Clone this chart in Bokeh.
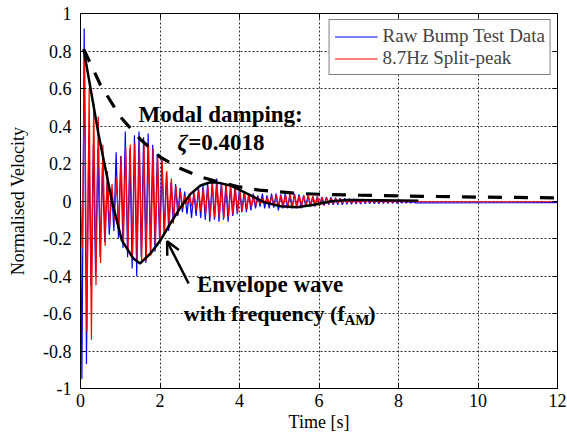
import numpy as np
from bokeh.plotting import figure
from bokeh.models import (Range1d, FixedTicker, LinearAxis, Legend, LegendItem,
                          Label, Arrow, OpenHead)
from bokeh.embed import file_html
from bokeh.resources import INLINE

# ---------------- data ----------------
X_TICKS = [0, 2, 4, 6, 8, 10, 12]
X_TICK_LABELS = ["0", "2", "4", "6", "8", "10", "12"]
Y_TICKS = [-1, -0.8, -0.6, -0.4, -0.2, 0, 0.2, 0.4, 0.6, 0.8, 1]
Y_TICK_LABELS = ["-1", "-0.8", "-0.6", "-0.4", "-0.2", "0", "0.2", "0.4", "0.6", "0.8", "1"]

# sampling of the extremes of the 8.7 Hz oscillation (half a period apart)
CARRIER_HZ = 8.7
HALF_PERIOD = 1.0 / (2.0 * CARRIER_HZ)

# 8.7Hz split-peak signal: successive extremes, first one at RED_T0
RED_T0 = 0.045
RED_PEAKS = [
    -0.25, 0.78, -0.70, 0.60, -0.74, 0.52, -0.45, 0.45, -0.33, 0.30,
    -0.24, 0.16, -0.14, 0.09, -0.10, 0.12, -0.16, 0.24, -0.23, 0.29,
    -0.27, 0.30, -0.30, 0.31, -0.32, 0.31, -0.33, 0.31, -0.32, 0.30,
    -0.29, 0.28, -0.26, 0.25, -0.22, 0.21, -0.18, 0.16, -0.14, 0.12,
    -0.10, 0.08, -0.07, 0.05, -0.04, 0.03, -0.02, 0.03, -0.03, 0.04,
    -0.05, 0.06, -0.06, 0.07, -0.075, 0.08, -0.085, 0.09, -0.09, 0.095,
    -0.095, 0.09, -0.09, 0.085, -0.085, 0.08, -0.075, 0.07, -0.065, 0.06,
    -0.055, 0.05, -0.045, 0.04, -0.035, 0.03, -0.025, 0.02, -0.015, 0.015,
    -0.015, 0.02, -0.02, 0.025, -0.025, 0.03, -0.028, 0.032, -0.03, 0.033,
    -0.03, 0.033, -0.03, 0.033, -0.03, 0.032, -0.028, 0.03, -0.026, 0.028,
    -0.024, 0.025, -0.022, 0.022, -0.02, 0.02, -0.018, 0.017, -0.016, 0.015,
    -0.014, 0.013, -0.013, 0.012, -0.012, 0.011, -0.011, 0.010, -0.010, 0.010,
    -0.010, 0.009, -0.010, 0.009, -0.009, 0.008, -0.009, 0.008, -0.009, 0.007,
    -0.008, 0.007, -0.008, 0.006, -0.008, 0.006, -0.007, 0.005, -0.007, 0.004,
    -0.006, 0.003, -0.006, 0.002, -0.005, 0.000, -0.004,
]
RED_END_T = 12.0
RED_END_V = -0.004

# Raw bump test data: successive extremes, first one at BLUE_T0
BLUE_T0 = 0.035
BLUE_PEAKS = [
    -0.95, 0.92, -0.87, 0.35, -0.45, 0.30, -0.40, 0.28, -0.30, 0.18,
    -0.22, 0.10, -0.18, 0.06, -0.16, 0.26, -0.20, 0.24, -0.25, 0.37,
    -0.30, 0.28, -0.36, 0.35, -0.40, 0.37, -0.30, 0.34, -0.33, 0.36,
    -0.28, 0.30, -0.27, 0.25, -0.22, 0.22, -0.18, 0.15, -0.16, 0.10,
    -0.12, 0.09, -0.08, 0.07, -0.06, 0.05, -0.07, 0.04, -0.09, 0.05,
    -0.08, 0.07, -0.09, 0.08, -0.10, 0.09, -0.11, 0.10, -0.10, 0.12,
    -0.11, 0.10, -0.10, 0.09, -0.11, 0.08, -0.08, 0.08, -0.07, 0.07,
    -0.06, 0.05, -0.06, 0.04, -0.05, 0.04, -0.04, 0.03, -0.03, 0.04,
    -0.04, 0.03, -0.04, 0.04, -0.035, 0.04, -0.05, 0.035, -0.04, 0.04,
    -0.04, 0.035, -0.04, 0.04, -0.035, 0.035, -0.04, 0.03, -0.03, 0.03,
    -0.03, 0.025, -0.03, 0.025, -0.025, 0.02, -0.025, 0.02, -0.02, 0.02,
    -0.02, 0.018, -0.02, 0.015, -0.02, 0.015, -0.018, 0.012, -0.018, 0.012,
    -0.016, 0.010, -0.016, 0.010, -0.015, 0.008, -0.015, 0.008, -0.014, 0.006,
    -0.014, 0.006, -0.013, 0.005, -0.013, 0.004, -0.012, 0.003, -0.012, 0.002,
    -0.011, 0.000, -0.011, -0.002, -0.010, -0.004, -0.010,
]
BLUE_END_T = 12.0
BLUE_END_V = -0.009

# Envelope wave (f_AM), black solid
ENV_T = [0.08, 0.45, 0.79, 1.04, 1.33, 1.50, 1.76, 2.01, 2.26, 2.52, 2.77,
         3.02, 3.27, 3.45, 3.77, 4.28, 4.61, 5.03, 5.45, 5.87, 6.29, 6.71,
         7.5, 8.5]
ENV_V = [0.81, 0.36, 0.0, -0.21, -0.307, -0.333, -0.28, -0.21, -0.12, -0.033,
         0.038, 0.083, 0.10, 0.098, 0.083, 0.03, -0.006, -0.028, -0.033, -0.02,
         -0.003, 0.006, 0.004, 0.002]

# Modal damping decay, black dashed
DECAY_T = [0.08, 0.5, 1.0, 1.5, 2.0, 2.5, 3.0, 3.5, 4.0, 4.5, 5.0, 5.5, 6.0,
           7.0, 8.0, 9.0, 10.0, 11.0, 12.0]
DECAY_V = [0.81, 0.62, 0.45, 0.33, 0.235, 0.175, 0.13, 0.10, 0.075, 0.058,
           0.049, 0.04, 0.036, 0.031, 0.027, 0.024, 0.021, 0.019, 0.017]

# ---------------- build series ----------------
red_t = [0.0] + [RED_T0 + k * HALF_PERIOD for k in range(len(RED_PEAKS))] + [RED_END_T]
red_v = [0.0] + RED_PEAKS + [RED_END_V]
blue_t = [0.0] + [BLUE_T0 + k * HALF_PERIOD for k in range(len(BLUE_PEAKS))] + [BLUE_END_T]
blue_v = [0.0] + BLUE_PEAKS + [BLUE_END_V]

FONT = "Liberation Serif"

p = figure(width=567, height=443, output_backend="svg", toolbar_location=None,
           x_range=Range1d(0, 12), y_range=Range1d(-1, 1),
           min_border_left=80, min_border_right=10, min_border_top=13,
           min_border_bottom=55)
p.background_fill_color = "white"
p.border_fill_color = "white"
p.outline_line_color = "black"
p.outline_line_width = 1
p.outline_line_alpha = 1

for ax, ticks, labels in ((p.xaxis[0], X_TICKS, X_TICK_LABELS),
                          (p.yaxis[0], Y_TICKS, Y_TICK_LABELS)):
    ax.ticker = FixedTicker(ticks=ticks)
    ax.major_label_overrides = {t: s for t, s in zip(ticks, labels)}
    ax.major_tick_in = 5
    ax.major_tick_out = 0
    ax.minor_tick_in = 0
    ax.minor_tick_out = 0
    ax.axis_line_color = "black"
    ax.major_tick_line_color = "black"
    ax.major_label_text_font = FONT
    ax.major_label_text_font_size = "18px"
    ax.major_label_text_color = "black"
    ax.axis_label_text_font = FONT
    ax.axis_label_text_font_size = "18px"
    ax.axis_label_text_font_style = "normal"
    ax.axis_label_text_color = "black"

p.xaxis.axis_label = "Time [s]"
p.yaxis.axis_label = "Normalised Velocity"
p.xaxis.major_label_standoff = 5
p.xaxis.axis_label_standoff = 2
p.yaxis.major_label_standoff = 9
p.yaxis.axis_label_standoff = 12

# box ticks on top and right (no labels)
top_ax = LinearAxis(ticker=FixedTicker(ticks=X_TICKS), major_tick_in=5, major_tick_out=0,
                    minor_tick_in=0, minor_tick_out=0,
                    major_label_overrides={t: "" for t in X_TICKS},
                    major_label_standoff=0, axis_line_color="black")
right_ax = LinearAxis(ticker=FixedTicker(ticks=Y_TICKS), major_tick_in=5, major_tick_out=0,
                      minor_tick_in=0, minor_tick_out=0,
                      major_label_overrides={t: "" for t in Y_TICKS},
                      major_label_standoff=0, axis_line_color="black")
p.add_layout(top_ax, "above")
p.add_layout(right_ax, "right")

for g in (p.xgrid[0], p.ygrid[0]):
    g.grid_line_color = "black"
    g.grid_line_alpha = 0.8
    g.grid_line_dash = "2 2"
    g.grid_line_width = 1
p.xgrid.ticker = FixedTicker(ticks=X_TICKS)
p.ygrid.ticker = FixedTicker(ticks=Y_TICKS)

r_blue = p.line(blue_t, blue_v, line_color="blue", line_width=1.2)
r_red = p.line(red_t, red_v, line_color="red", line_width=1.2)
p.line(ENV_T, ENV_V, line_color="black", line_width=2.5)
p.line(DECAY_T, DECAY_V, line_color="black", line_width=3.2, line_dash="14 12")

legend = Legend(items=[LegendItem(label="Raw Bump Test Data", renderers=[r_blue]),
                       LegendItem(label="8.7Hz Split-peak", renderers=[r_red])],
                location="top_right", margin=6, padding=5, spacing=0,
                glyph_width=43, glyph_height=15, label_height=15, label_standoff=5,
                label_text_font=FONT, label_text_font_size="19px",
                label_text_line_height=0.75,
                border_line_color="black", border_line_width=1,
                background_fill_color="white", background_fill_alpha=1)
p.add_layout(legend)

def add_label(x, y, text, size="23px", style="bold"):
    p.add_layout(Label(x=x, y=y, text=text, text_font=FONT, text_font_size=size,
                       text_font_style=style, text_color="black",
                       text_baseline="alphabetic", text_align="left"))

add_label(1.46, 0.46, "Modal damping:")
add_label(2.44, 0.312, "ζ", style="bold italic")
add_label(2.71, 0.312, "=0.4018")
add_label(2.93, -0.447, "Envelope wave")
add_label(2.60, -0.60, "with frequency (f", size="22px")
add_label(6.64, -0.637, "AM", size="15px")
add_label(7.24, -0.60, ")", size="22px")

p.add_layout(Arrow(end=OpenHead(size=13, line_width=2.5, line_color="black"),
                   x_start=2.72, y_start=-0.44, x_end=2.18, y_end=-0.215,
                   line_width=2.5, line_color="black"))

open("out.html", "w").write(file_html(p, INLINE))
